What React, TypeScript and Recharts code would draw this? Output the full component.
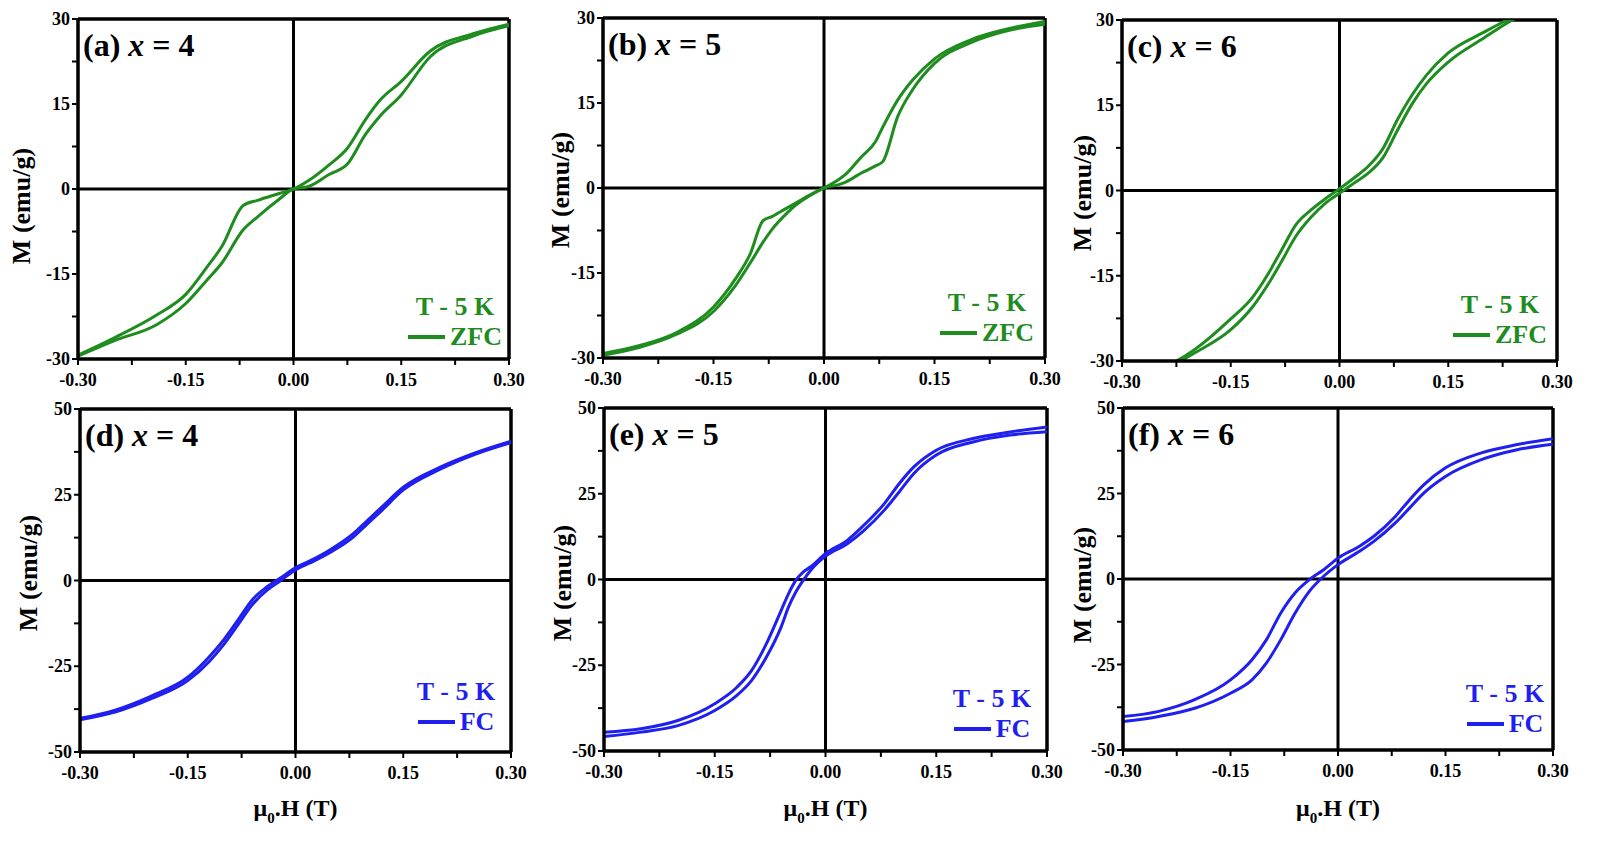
import { LineChart, Line, XAxis, YAxis, ReferenceLine } from "recharts";

const GREEN = "#1e8c1e";
const BLUE = "#1f1ff0";
const SERIF = '"Liberation Serif", "Times New Roman", serif';

// applied field (T) and the two branches of each M–H loop (emu/g)
const fieldA = [-0.3, -0.25, -0.19, -0.15, -0.12, -0.1, -0.07, -0.05, -0.02, 0, 0.02, 0.05, 0.075, 0.1, 0.12, 0.15, 0.19, 0.25, 0.3];
const downA = [-29.3, -26.3, -22.2, -18.6, -13.7, -10.2, -2.9, -2.0, -0.8, 0, 1.4, 4.3, 7.2, 12.2, 15.6, 19.0, 24.3, 27.4, 29.1];
const upA = [-29.5, -26.8, -23.9, -20.2, -16.0, -13.1, -7.2, -4.9, -1.8, 0, 0.4, 2.6, 4.4, 9.6, 12.8, 16.6, 23.3, 27.0, 28.8];

const fieldB = [-0.3, -0.25, -0.2, -0.15, -0.12, -0.1, -0.083, -0.07, -0.05, -0.04, -0.02, 0, 0.02, 0.03, 0.05, 0.07, 0.08, 0.1, 0.12, 0.15, 0.2, 0.25, 0.3];
const downB = [-29.2, -27.8, -25.5, -21.0, -16.0, -11.6, -5.8, -5.0, -3.5, -2.8, -1.3, 0, 1.5, 2.5, 5.4, 8.2, 10.8, 15.5, 19.0, 22.8, 26.2, 28.1, 29.4];
const upB = [-29.5, -28.1, -25.8, -21.8, -17.2, -13.2, -9.6, -7.2, -4.4, -3.2, -1.4, 0, 0.6, 1.1, 2.6, 3.9, 4.7, 12.6, 17.3, 22.0, 25.7, 27.8, 28.9];

const fieldC = [-0.3, -0.25, -0.225, -0.2, -0.15, -0.12, -0.1, -0.08, -0.06, -0.04, -0.02, 0, 0.02, 0.04, 0.06, 0.08, 0.1, 0.12, 0.15, 0.2, 0.225, 0.25, 0.3];
const downC = [-34.0, -31.5, -30.0, -28.0, -22.6, -18.8, -15.0, -10.5, -6.0, -3.5, -1.5, 0.3, 2.2, 4.3, 7.4, 12.5, 16.8, 20.3, 24.2, 27.9, 29.6, 31.2, 33.8];
const upC = [-34.5, -32.0, -30.4, -28.6, -24.5, -20.5, -16.8, -12.5, -8.0, -4.8, -2.3, -0.5, 1.3, 3.1, 5.8, 10.6, 15.2, 18.8, 22.6, 26.9, 29.0, 30.8, 33.5];

const fieldD = [-0.3, -0.25, -0.2, -0.15, -0.12, -0.1, -0.08, -0.06, -0.04, -0.02, 0, 0.02, 0.05, 0.08, 0.1, 0.12, 0.15, 0.2, 0.25, 0.3];
const downD = [-40.2, -37.7, -33.6, -28.2, -22.2, -17.3, -11.5, -5.6, -1.9, 0.9, 3.7, 5.7, 9.2, 13.6, 17.5, 21.4, 27.2, 32.9, 37.2, 40.6];
const upD = [-40.6, -38.3, -34.4, -29.2, -23.6, -18.7, -12.9, -7.0, -2.9, 0.1, 3.1, 5.1, 8.4, 12.6, 16.5, 20.4, 26.4, 32.3, 36.8, 40.2];

const fieldE = [-0.3, -0.25, -0.2, -0.15, -0.12, -0.1, -0.08, -0.06, -0.05, -0.04, -0.03, -0.02, 0, 0.03, 0.05, 0.08, 0.1, 0.12, 0.15, 0.2, 0.25, 0.3];
const downE = [-44.5, -43.5, -41.1, -36.2, -31.4, -26.5, -18.7, -9.0, -4.1, -0.2, 2.2, 3.7, 7.6, 11.5, 15.4, 22.2, 28.0, 32.9, 37.7, 41.1, 43.0, 44.5];
const upE = [-45.8, -44.5, -42.6, -38.2, -33.8, -29.4, -22.6, -13.8, -8.0, -3.6, -0.2, 2.7, 6.8, 10.5, 13.9, 20.3, 25.6, 31.0, 36.3, 40.1, 42.1, 43.1];

const fieldF = [-0.3, -0.25, -0.2, -0.15, -0.12, -0.1, -0.08, -0.06, -0.04, -0.02, 0, 0.03, 0.05, 0.08, 0.1, 0.12, 0.15, 0.2, 0.25, 0.3];
const downF = [-40.2, -38.7, -35.3, -29.5, -23.6, -17.8, -10.0, -4.1, -0.2, 2.7, 6.1, 9.6, 12.5, 18.3, 23.2, 27.6, 32.5, 36.9, 39.3, 41.0];
const upF = [-41.7, -40.2, -37.8, -33.4, -29.5, -24.6, -17.8, -10.0, -3.6, 0.8, 4.2, 8.1, 11.0, 16.4, 20.8, 25.2, 30.0, 34.9, 37.8, 39.4];

const fieldTicks = [-0.3, -0.225, -0.15, -0.075, 0, 0.075, 0.15, 0.225, 0.3];
const zfcTicks = [-30, -22.5, -15, -7.5, 0, 7.5, 15, 22.5, 30];
const fcTicks = [-50, -37.5, -25, -12.5, 0, 12.5, 25, 37.5, 50];

// box = [plot left, plot top, plot width, plot height]
const panels = [
  { tag: "a", x: 4, mode: "ZFC", field: fieldA, down: downA, up: upA, box: [78, 19, 431, 340], yTitle: [22, 206], legend: [54, 52] },
  { tag: "b", x: 5, mode: "ZFC", field: fieldB, down: downB, up: upB, box: [603, 18, 442, 340], yTitle: [561, 190], legend: [58, 55] },
  { tag: "c", x: 6, mode: "ZFC", field: fieldC, down: downC, up: upC, box: [1122, 20, 435, 341], yTitle: [1083, 193], legend: [57, 56] },
  { tag: "d", x: 4, mode: "FC", field: fieldD, down: downD, up: upD, box: [80, 409, 431, 343], yTitle: [29, 573], legend: [55, 60] },
  { tag: "e", x: 5, mode: "FC", field: fieldE, down: downE, up: upE, box: [604, 408, 443, 343], yTitle: [563, 583], legend: [55, 52] },
  { tag: "f", x: 6, mode: "FC", field: fieldF, down: downF, up: upF, box: [1123, 408, 430, 342], yTitle: [1083, 585], legend: [48, 56] },
];

const tickText = { fontFamily: SERIF, fontWeight: 700, fontSize: 18, fill: "#000" };

const FieldTick = ({ x, y, payload }: any) => {
  const v = payload.value;
  if (Math.round(v * 1000) % 150 !== 0) return <g />;
  return (
    <text x={x} y={y + 19} textAnchor="middle" {...tickText}>
      {v.toFixed(2)}
    </text>
  );
};

const momentTick = (step: number) => ({ x, y, payload }: any) => {
  const v = payload.value;
  if (Math.round(v * 10) % (step * 10) !== 0) return <g />;
  return (
    <text x={x} y={y + 6} textAnchor="end" {...tickText}>
      {v}
    </text>
  );
};

const ML = 75;
const MT = 12;
const MR = 20;
const XH = 40;
const FRAME = 3.5;

function Panel({ p }: { p: (typeof panels)[number] }) {
  const [left, top, w, h] = p.box;
  const zfc = p.mode === "ZFC";
  const color = zfc ? GREEN : BLUE;
  const lim = zfc ? 30 : 50;
  const down = p.field.map((f, i) => ({ h: f, m: p.down[i] }));
  const up = p.field.map((f, i) => ({ h: f, m: p.up[i] }));
  const right = left + w;
  const bottom = top + h;

  return (
    <>
      <div style={{ position: "absolute", left: left - ML, top: top - MT }}>
        <LineChart width={w + ML + MR} height={h + MT + XH} margin={{ top: MT, right: MR, bottom: 0, left: 0 }}>
          <XAxis
            type="number"
            dataKey="h"
            domain={[-0.3, 0.3]}
            ticks={fieldTicks}
            interval={0}
            allowDataOverflow
            height={XH}
            tickSize={6}
            axisLine={{ stroke: "#000", strokeWidth: FRAME }}
            tickLine={{ stroke: "#000", strokeWidth: 2 }}
            tick={FieldTick}
          />
          <YAxis
            type="number"
            dataKey="m"
            domain={[-lim, lim]}
            ticks={zfc ? zfcTicks : fcTicks}
            interval={0}
            allowDataOverflow
            width={ML}
            tickSize={6}
            axisLine={{ stroke: "#000", strokeWidth: FRAME }}
            tickLine={{ stroke: "#000", strokeWidth: 2 }}
            tick={momentTick(zfc ? 15 : 25)}
          />
          <ReferenceLine y={lim} stroke="#000" strokeWidth={FRAME} />
          <ReferenceLine x={0.3} stroke="#000" strokeWidth={FRAME} />
          <ReferenceLine y={0} stroke="#000" strokeWidth={3} />
          <ReferenceLine x={0} stroke="#000" strokeWidth={3} />
          <Line data={down} dataKey="m" type="monotone" stroke={color} strokeWidth={3} dot={false} isAnimationActive={false} />
          <Line data={up} dataKey="m" type="monotone" stroke={color} strokeWidth={3} dot={false} isAnimationActive={false} />
        </LineChart>
      </div>

      <div style={{ position: "absolute", left: left + 5, top: top + 10, fontFamily: SERIF, fontWeight: 700, fontSize: 32, lineHeight: 1, whiteSpace: "nowrap" }}>
        ({p.tag}) <i>x</i> = {p.x}
      </div>

      <div
        style={{
          position: "absolute",
          left: p.yTitle[0],
          top: p.yTitle[1],
          transform: "translate(-50%, -50%) rotate(-90deg)",
          fontFamily: SERIF,
          fontWeight: 700,
          fontSize: 26,
          whiteSpace: "nowrap",
        }}
      >
        M (emu/g)
      </div>

      <div
        style={{
          position: "absolute",
          left: right - p.legend[0] - 100,
          top: bottom - p.legend[1] - 15,
          width: 200,
          textAlign: "center",
          fontFamily: SERIF,
          fontWeight: 700,
          fontSize: 26,
          lineHeight: "30px",
          color,
        }}
      >
        <div>T - 5 K</div>
        <div style={{ display: "flex", justifyContent: "center", alignItems: "center", gap: 5 }}>
          <span style={{ display: "inline-block", width: 37, height: 4, background: color }} />
          <span>{p.mode}</span>
        </div>
      </div>

      {!zfc && (
        <div
          style={{
            position: "absolute",
            left: left + w / 2,
            top: 808,
            transform: "translate(-50%, -50%)",
            fontFamily: SERIF,
            fontWeight: 700,
            fontSize: 24,
            whiteSpace: "nowrap",
          }}
        >
          μ<span style={{ fontSize: 15, position: "relative", top: 7 }}>0</span>.H (T)
        </div>
      )}
    </>
  );
}

export default function App() {
  return (
    <div style={{ position: "absolute", left: 0, top: 0, width: 1600, height: 841, background: "#fff", overflow: "hidden" }}>
      {panels.map((p) => (
        <Panel key={p.tag} p={p} />
      ))}
    </div>
  );
}
